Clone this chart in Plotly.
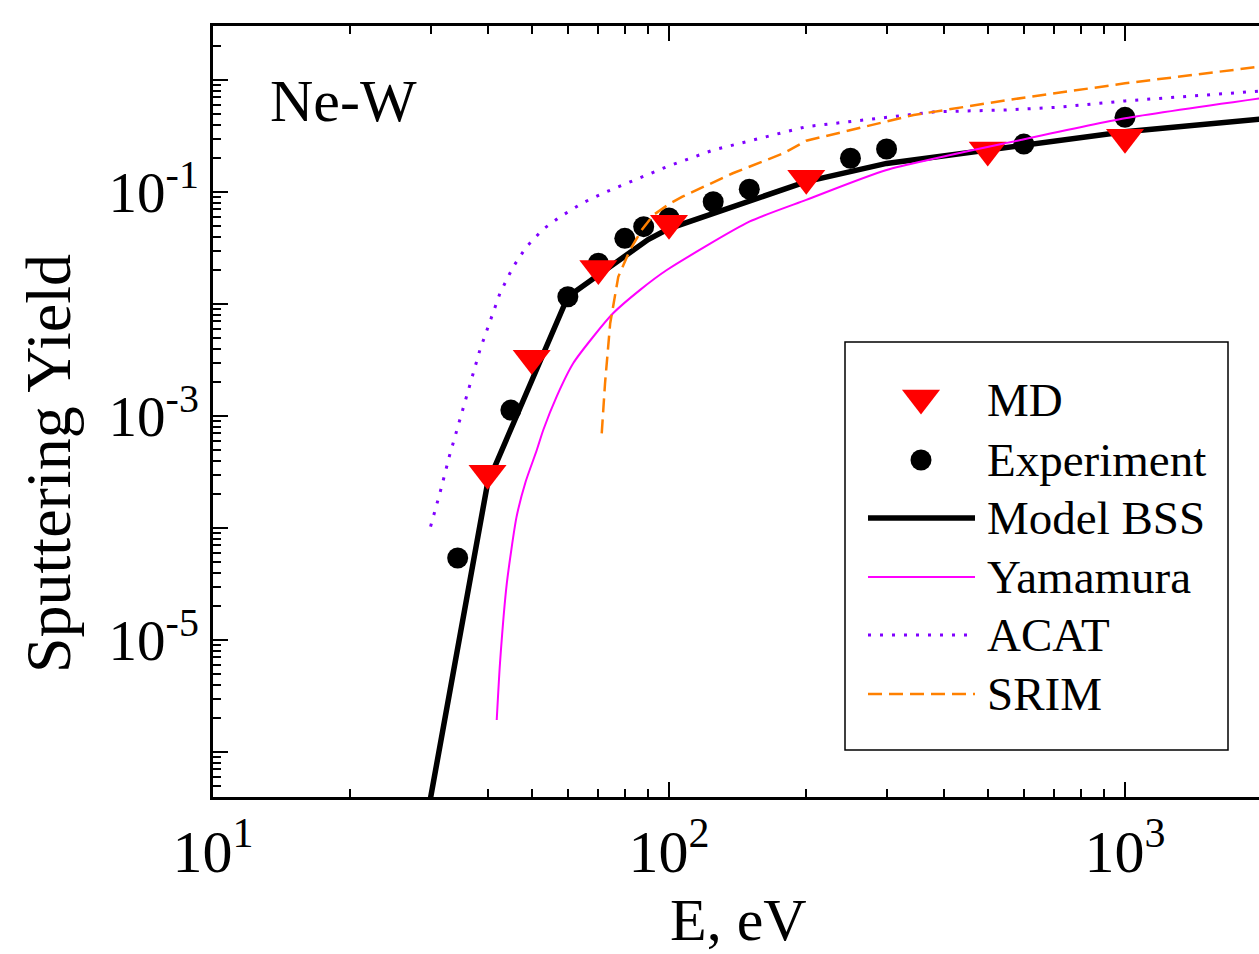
import plotly.graph_objects as go

# ---------------- data ----------------
md_E = [40, 50, 70, 100, 200, 500, 1000]
md_Y = [3.08e-4, 3.27e-3, 0.0208, 0.0526, 0.1325, 0.237, 0.308]

exp_E = [34.4, 45, 60, 70, 80, 88, 100, 125, 150, 250, 300, 600, 1000]
exp_Y = [5.4e-5, 1.13e-3, 0.0116, 0.0231, 0.0386, 0.049, 0.0586, 0.0819, 0.106,
         0.200, 0.242, 0.268, 0.464]

bss_E = [30, 40, 60, 90, 100, 150, 200, 300, 600, 1000, 2000]
bss_Y = [3.9e-7, 2.5e-4, 0.0116, 0.0376, 0.0471, 0.082, 0.124, 0.180, 0.263, 0.345, 0.449]

yam_E = [41.9, 42.6, 44.1, 46.3, 48.5, 51.3, 53.0, 56.7, 61.7, 68.2, 75.5, 86.3, 98.9,
         150, 200, 300, 590, 1000, 2000]
yam_Y = [1.93e-6, 6.23e-6, 3.23e-5, 1.25e-4, 2.6e-4, 4.97e-4, 7.5e-4, 1.49e-3, 2.97e-3,
         5.1e-3, 8.3e-3, 0.0133, 0.0201, 0.0543, 0.085, 0.157, 0.291, 0.455, 0.69]

acat_E = [30, 31.5, 33, 34.8, 38.5, 42.6, 45.5, 48.7, 53.0, 57.7, 64.9, 73, 98.8, 125,
          200, 384, 550, 708, 1000, 2000]
acat_Y = [1.03e-4, 2.1e-4, 4.4e-4, 9.2e-4, 3.9e-3, 0.0125, 0.0214, 0.0325, 0.0467, 0.060,
          0.0806, 0.1007, 0.168, 0.237, 0.383, 0.521, 0.54, 0.57, 0.65, 0.80]

srim_E = [71.2, 72.4, 74.3, 77.4, 82.1, 87.1, 92.4, 100, 107, 138, 178, 200, 344, 550,
          1000, 1960]
srim_Y = [7.0e-4, 1.96e-3, 6.7e-3, 0.0175, 0.0303, 0.0458, 0.0623, 0.078, 0.0908, 0.147,
          0.221, 0.287, 0.487, 0.66, 0.934, 1.31]

x_tickvals = [10, 100, 1000]
x_ticktext = ["10<sup>1</sup>", "10<sup>2</sup>", "10<sup>3</sup>"]
y_tickvals = [1e-5, 1e-3, 1e-1]
y_ticktext = ["10<sup>-5</sup>", "10<sup>-3</sup>", "10<sup>-1</sup>"]
y_unlabeled_decades = [1e-6, 1e-4, 1e-2, 1e0]

legend_names = ["MD", "Experiment", "Model BSS", "Yamamura", "ACAT", "SRIM"]

# ---------------- geometry ----------------
W, H = 1259, 954
L, R, T, B = 213, 0, 26, 157
PW, PH = W - L - R, H - T - B
FONT = "Liberation Serif, Times New Roman, serif"
X_RANGE = [1, 1 + PW / 456.0]
Y_RANGE = [-6 - 45 / 112.0, 54 / 112.0]


def px(x):
    return (x - L) / PW


def py(y):
    return (H - B - y) / PH


x_minor = [k * 10 ** e for e in (1, 2, 3) for k in range(2, 10)]
y_minor = [k * 10.0 ** e for e in range(-7, 1) for k in range(2, 10)]

BSS_LINE = dict(color="black", width=5.5)
YAM_LINE = dict(color="#FF00FF", width=2)
ACAT_LINE = dict(color="#8000FF", width=3, dash="3px,9px")
SRIM_LINE = dict(color="#FF8000", width=2.5, dash="14px,7px")
MD_MARK = dict(symbol="triangle-down", size=33, color="#FF0000", line=dict(width=0))
EXP_MARK = dict(symbol="circle", size=21, color="black", line=dict(width=0))

fig = go.Figure()

fig.add_trace(go.Scatter(x=bss_E, y=bss_Y, mode="lines", line=BSS_LINE, name="Model BSS"))
fig.add_trace(go.Scatter(x=exp_E, y=exp_Y, mode="markers", marker=EXP_MARK, name="Experiment"))
fig.add_trace(go.Scatter(x=md_E, y=md_Y, mode="markers", marker=MD_MARK, name="MD"))
fig.add_trace(go.Scatter(x=yam_E, y=yam_Y, mode="lines", line=YAM_LINE, name="Yamamura",
                         line_shape="spline", line_smoothing=0.6))
fig.add_trace(go.Scatter(x=acat_E, y=acat_Y, mode="lines", line=ACAT_LINE, name="ACAT"))
fig.add_trace(go.Scatter(x=srim_E, y=srim_Y, mode="lines", line=SRIM_LINE, name="SRIM"))

# empty trace so the overlay axis carrying the unlabeled decade ticks is drawn
fig.add_trace(go.Scatter(x=[], y=[], yaxis="y3", mode="lines", hoverinfo="skip"))

# ---------------- custom legend ----------------
leg_y = [400, 460, 518, 577, 635, 694]
leg_sym_x = 921
fig.add_trace(go.Scatter(x=[leg_sym_x], y=[leg_y[0] - 2], xaxis="x2", yaxis="y2", mode="markers",
                         marker=MD_MARK, cliponaxis=False, hoverinfo="skip"))
fig.add_trace(go.Scatter(x=[leg_sym_x], y=[leg_y[1]], xaxis="x2", yaxis="y2", mode="markers",
                         marker=EXP_MARK, cliponaxis=False, hoverinfo="skip"))

shapes = [dict(type="rect", xref="paper", yref="paper", x0=px(845), x1=px(1228),
               y0=py(750), y1=py(342), line=dict(color="black", width=1.5),
               fillcolor="rgba(0,0,0,0)")]
for yy, st in zip(leg_y[2:], [BSS_LINE, YAM_LINE, ACAT_LINE, SRIM_LINE]):
    shapes.append(dict(type="line", xref="paper", yref="paper", x0=px(868), x1=px(975),
                       y0=py(yy), y1=py(yy), line=st))

annotations = []
for yy, name in zip(leg_y, legend_names):
    annotations.append(dict(text=name, xref="paper", yref="paper", x=px(985), y=py(yy),
                            xanchor="left", yanchor="middle", showarrow=False,
                            font=dict(family=FONT, size=47, color="black")))
annotations.append(dict(text="Ne-W", xref="paper", yref="paper", x=px(268), y=py(101),
                        xanchor="left", yanchor="middle", showarrow=False,
                        font=dict(family=FONT, size=60, color="black")))
annotations.append(dict(text="E, eV", xref="paper", yref="paper", x=px(738), y=py(920),
                        xanchor="center", yanchor="middle", showarrow=False,
                        font=dict(family=FONT, size=60, color="black")))
annotations.append(dict(text="Sputtering Yield", xref="paper", yref="paper", x=px(48), y=py(464),
                        xanchor="center", yanchor="middle", showarrow=False, textangle=-90,
                        font=dict(family=FONT, size=64, color="black")))

fig.update_layout(
    width=W, height=H,
    margin=dict(l=L, r=R, t=T, b=B, pad=0),
    paper_bgcolor="white", plot_bgcolor="white",
    showlegend=False,
    xaxis=dict(type="log", range=X_RANGE, showline=True, linecolor="black", linewidth=2.5,
               mirror="ticks", ticks="inside", ticklen=15, tickwidth=2, tickcolor="black",
               tickmode="array", tickvals=x_tickvals, ticktext=x_ticktext,
               tickfont=dict(family=FONT, size=60, color="black"),
               showgrid=False, zeroline=False,
               minor=dict(ticks="inside", ticklen=8, tickwidth=2, tickcolor="black",
                          tickmode="array", tickvals=x_minor, showgrid=False)),
    yaxis=dict(type="log", range=Y_RANGE, showline=True, linecolor="black",
               linewidth=2.5, mirror=False, ticks="inside", ticklen=15, tickwidth=2,
               tickcolor="black", tickmode="array", tickvals=y_tickvals, ticktext=y_ticktext,
               tickfont=dict(family=FONT, size=57, color="black"),
               showgrid=False, zeroline=False,
               minor=dict(ticks="inside", ticklen=8, tickwidth=2, tickcolor="black",
                          tickmode="array", tickvals=y_minor, showgrid=False)),
    yaxis3=dict(type="log", range=Y_RANGE, overlaying="y", anchor="x", side="left",
                showline=False, ticks="inside", ticklen=15, tickwidth=2, tickcolor="black",
                tickmode="array", tickvals=y_unlabeled_decades, showticklabels=False,
                showgrid=False, zeroline=False),
    xaxis2=dict(overlaying="x", anchor="y2", range=[L, W - R], visible=False, showgrid=False),
    yaxis2=dict(overlaying="y", anchor="x2", range=[H - B, T], visible=False, showgrid=False),
    shapes=shapes,
    annotations=annotations,
)

fig.write_html("out.html")
